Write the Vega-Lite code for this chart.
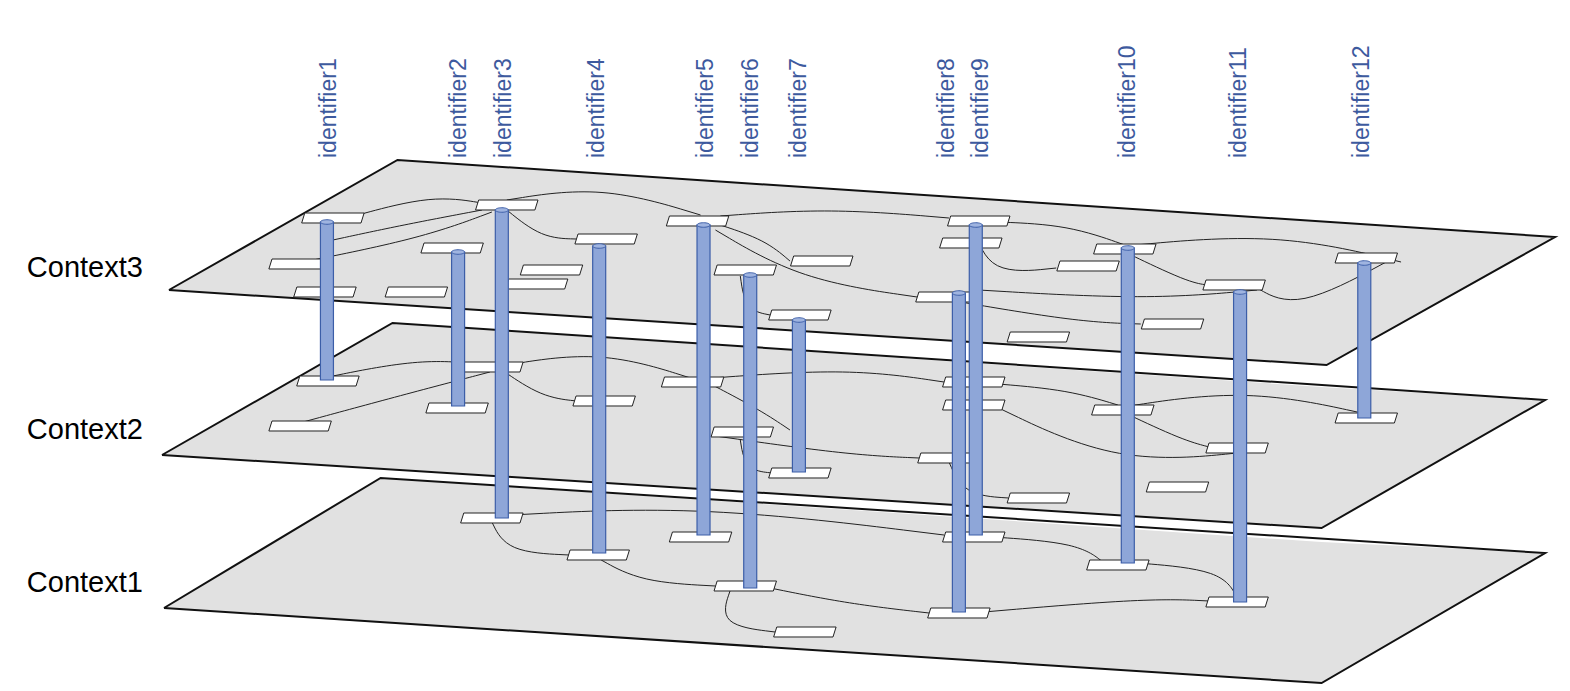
{
  "$schema": "https://vega.github.io/schema/vega-lite/v6.json",
  "autosize": {"type": "fit", "contains": "padding"},
  "width": 1570,
  "height": 691,
  "padding": 0,
  "background": "white",
  "config": {"view": {"stroke": null}},
  "datasets": {
    "planes": [
      {"plane": 1, "x": 160, "y": 608, "y2": 608},
      {"plane": 1, "x": 378, "y": 478, "y2": 623},
      {"plane": 1, "x": 1325, "y": 542, "y2": 683},
      {"plane": 1, "x": 1550, "y": 553, "y2": 553},
      {"plane": 2, "x": 158, "y": 455, "y2": 455},
      {"plane": 2, "x": 390, "y": 323, "y2": 469},
      {"plane": 2, "x": 1325, "y": 387, "y2": 528},
      {"plane": 2, "x": 1550, "y": 400, "y2": 400},
      {"plane": 3, "x": 165, "y": 290, "y2": 290},
      {"plane": 3, "x": 395, "y": 160, "y2": 305},
      {"plane": 3, "x": 1330, "y": 222, "y2": 365},
      {"plane": 3, "x": 1560, "y": 237, "y2": 237}
    ],
    "outlines": [
      {"plane": 1, "ord": 1, "x": 160, "y": 608},
      {"plane": 1, "ord": 2, "x": 378, "y": 478},
      {"plane": 1, "ord": 3, "x": 1550, "y": 553},
      {"plane": 1, "ord": 4, "x": 1325, "y": 683},
      {"plane": 1, "ord": 5, "x": 160, "y": 608},
      {"plane": 2, "ord": 1, "x": 158, "y": 455},
      {"plane": 2, "ord": 2, "x": 390, "y": 323},
      {"plane": 2, "ord": 3, "x": 1550, "y": 400},
      {"plane": 2, "ord": 4, "x": 1325, "y": 528},
      {"plane": 2, "ord": 5, "x": 158, "y": 455},
      {"plane": 3, "ord": 1, "x": 165, "y": 290},
      {"plane": 3, "ord": 2, "x": 395, "y": 160},
      {"plane": 3, "ord": 3, "x": 1560, "y": 237},
      {"plane": 3, "ord": 4, "x": 1330, "y": 365},
      {"plane": 3, "ord": 5, "x": 165, "y": 290}
    ],
    "boxes": [
      {"plane": 3, "x": 330, "y": 218}, {"plane": 3, "x": 297, "y": 264}, {"plane": 3, "x": 322, "y": 292},
      {"plane": 3, "x": 505, "y": 205}, {"plane": 3, "x": 450, "y": 248}, {"plane": 3, "x": 414, "y": 292},
      {"plane": 3, "x": 550, "y": 270}, {"plane": 3, "x": 535, "y": 284}, {"plane": 3, "x": 605, "y": 239},
      {"plane": 3, "x": 697, "y": 221}, {"plane": 3, "x": 745, "y": 270}, {"plane": 3, "x": 822, "y": 261},
      {"plane": 3, "x": 800, "y": 315}, {"plane": 3, "x": 980, "y": 221}, {"plane": 3, "x": 972, "y": 243},
      {"plane": 3, "x": 948, "y": 297}, {"plane": 3, "x": 1090, "y": 266}, {"plane": 3, "x": 1127, "y": 249},
      {"plane": 3, "x": 1040, "y": 337}, {"plane": 3, "x": 1175, "y": 324}, {"plane": 3, "x": 1237, "y": 285},
      {"plane": 3, "x": 1370, "y": 258},
      {"plane": 2, "x": 325, "y": 381}, {"plane": 2, "x": 297, "y": 426}, {"plane": 2, "x": 455, "y": 408},
      {"plane": 2, "x": 490, "y": 367}, {"plane": 2, "x": 603, "y": 401}, {"plane": 2, "x": 692, "y": 382},
      {"plane": 2, "x": 742, "y": 432}, {"plane": 2, "x": 800, "y": 473}, {"plane": 2, "x": 975, "y": 382},
      {"plane": 2, "x": 975, "y": 405}, {"plane": 2, "x": 950, "y": 458}, {"plane": 2, "x": 1040, "y": 498},
      {"plane": 2, "x": 1125, "y": 410}, {"plane": 2, "x": 1180, "y": 487}, {"plane": 2, "x": 1240, "y": 448},
      {"plane": 2, "x": 1370, "y": 418},
      {"plane": 1, "x": 490, "y": 518}, {"plane": 1, "x": 597, "y": 555}, {"plane": 1, "x": 700, "y": 537},
      {"plane": 1, "x": 745, "y": 586}, {"plane": 1, "x": 805, "y": 632}, {"plane": 1, "x": 975, "y": 537},
      {"plane": 1, "x": 960, "y": 613}, {"plane": 1, "x": 1120, "y": 565}, {"plane": 1, "x": 1240, "y": 602}
    ],
    "curves": [
      {"plane": 3, "id": "a1", "ord": 1, "x": 355, "y": 215}, {"plane": 3, "id": "a1", "ord": 2, "x": 430, "y": 195}, {"plane": 3, "id": "a1", "ord": 3, "x": 480, "y": 203},
      {"plane": 3, "id": "a2", "ord": 1, "x": 505, "y": 200}, {"plane": 3, "id": "a2", "ord": 2, "x": 600, "y": 185}, {"plane": 3, "id": "a2", "ord": 3, "x": 700, "y": 215},
      {"plane": 3, "id": "a3", "ord": 1, "x": 720, "y": 216}, {"plane": 3, "id": "a3", "ord": 2, "x": 830, "y": 208}, {"plane": 3, "id": "a3", "ord": 3, "x": 950, "y": 218},
      {"plane": 3, "id": "a4", "ord": 1, "x": 1000, "y": 222}, {"plane": 3, "id": "a4", "ord": 2, "x": 1070, "y": 225}, {"plane": 3, "id": "a4", "ord": 3, "x": 1127, "y": 245},
      {"plane": 3, "id": "a5", "ord": 1, "x": 1127, "y": 246}, {"plane": 3, "id": "a5", "ord": 2, "x": 1280, "y": 232}, {"plane": 3, "id": "a5", "ord": 3, "x": 1405, "y": 262},
      {"plane": 3, "id": "a6", "ord": 1, "x": 505, "y": 210}, {"plane": 3, "id": "a6", "ord": 2, "x": 540, "y": 238}, {"plane": 3, "id": "a6", "ord": 3, "x": 575, "y": 239},
      {"plane": 3, "id": "a7", "ord": 1, "x": 720, "y": 225}, {"plane": 3, "id": "a7", "ord": 2, "x": 765, "y": 240}, {"plane": 3, "id": "a7", "ord": 3, "x": 790, "y": 261},
      {"plane": 3, "id": "a8", "ord": 1, "x": 715, "y": 230}, {"plane": 3, "id": "a8", "ord": 2, "x": 800, "y": 280}, {"plane": 3, "id": "a8", "ord": 3, "x": 918, "y": 297},
      {"plane": 3, "id": "a9", "ord": 1, "x": 330, "y": 240}, {"plane": 3, "id": "a9", "ord": 2, "x": 400, "y": 225}, {"plane": 3, "id": "a9", "ord": 3, "x": 480, "y": 210},
      {"plane": 3, "id": "a10", "ord": 1, "x": 1127, "y": 252}, {"plane": 3, "id": "a10", "ord": 2, "x": 1190, "y": 282}, {"plane": 3, "id": "a10", "ord": 3, "x": 1210, "y": 285},
      {"plane": 3, "id": "a11", "ord": 1, "x": 975, "y": 226}, {"plane": 3, "id": "a11", "ord": 2, "x": 990, "y": 275}, {"plane": 3, "id": "a11", "ord": 3, "x": 1058, "y": 268},
      {"plane": 3, "id": "a12", "ord": 1, "x": 950, "y": 300}, {"plane": 3, "id": "a12", "ord": 2, "x": 1080, "y": 322}, {"plane": 3, "id": "a12", "ord": 3, "x": 1143, "y": 324},
      {"plane": 3, "id": "a13", "ord": 1, "x": 740, "y": 276}, {"plane": 3, "id": "a13", "ord": 2, "x": 745, "y": 310}, {"plane": 3, "id": "a13", "ord": 3, "x": 770, "y": 315},
      {"plane": 3, "id": "a14", "ord": 1, "x": 300, "y": 262}, {"plane": 3, "id": "a14", "ord": 2, "x": 420, "y": 238}, {"plane": 3, "id": "a14", "ord": 3, "x": 490, "y": 212},
      {"plane": 3, "id": "a15", "ord": 1, "x": 980, "y": 290}, {"plane": 3, "id": "a15", "ord": 2, "x": 1150, "y": 300}, {"plane": 3, "id": "a15", "ord": 3, "x": 1260, "y": 290},
      {"plane": 3, "id": "a16", "ord": 1, "x": 1260, "y": 288}, {"plane": 3, "id": "a16", "ord": 2, "x": 1300, "y": 310}, {"plane": 3, "id": "a16", "ord": 3, "x": 1390, "y": 262},
      {"plane": 2, "id": "b1", "ord": 1, "x": 505, "y": 365}, {"plane": 2, "id": "b1", "ord": 2, "x": 600, "y": 350}, {"plane": 2, "id": "b1", "ord": 3, "x": 690, "y": 378},
      {"plane": 2, "id": "b2", "ord": 1, "x": 712, "y": 378}, {"plane": 2, "id": "b2", "ord": 2, "x": 850, "y": 368}, {"plane": 2, "id": "b2", "ord": 3, "x": 945, "y": 382},
      {"plane": 2, "id": "b3", "ord": 1, "x": 1000, "y": 384}, {"plane": 2, "id": "b3", "ord": 2, "x": 1070, "y": 390}, {"plane": 2, "id": "b3", "ord": 3, "x": 1120, "y": 405},
      {"plane": 2, "id": "b4", "ord": 1, "x": 1125, "y": 407}, {"plane": 2, "id": "b4", "ord": 2, "x": 1250, "y": 388}, {"plane": 2, "id": "b4", "ord": 3, "x": 1370, "y": 414},
      {"plane": 2, "id": "b5", "ord": 1, "x": 300, "y": 422}, {"plane": 2, "id": "b5", "ord": 2, "x": 400, "y": 395}, {"plane": 2, "id": "b5", "ord": 3, "x": 488, "y": 372},
      {"plane": 2, "id": "b6", "ord": 1, "x": 325, "y": 377}, {"plane": 2, "id": "b6", "ord": 2, "x": 420, "y": 358}, {"plane": 2, "id": "b6", "ord": 3, "x": 485, "y": 365},
      {"plane": 2, "id": "b7", "ord": 1, "x": 500, "y": 370}, {"plane": 2, "id": "b7", "ord": 2, "x": 540, "y": 397}, {"plane": 2, "id": "b7", "ord": 3, "x": 575, "y": 401},
      {"plane": 2, "id": "b8", "ord": 1, "x": 712, "y": 385}, {"plane": 2, "id": "b8", "ord": 2, "x": 760, "y": 410}, {"plane": 2, "id": "b8", "ord": 3, "x": 790, "y": 430},
      {"plane": 2, "id": "b9", "ord": 1, "x": 715, "y": 436}, {"plane": 2, "id": "b9", "ord": 2, "x": 850, "y": 455}, {"plane": 2, "id": "b9", "ord": 3, "x": 920, "y": 458},
      {"plane": 2, "id": "b10", "ord": 1, "x": 1125, "y": 412}, {"plane": 2, "id": "b10", "ord": 2, "x": 1185, "y": 440}, {"plane": 2, "id": "b10", "ord": 3, "x": 1212, "y": 447},
      {"plane": 2, "id": "b11", "ord": 1, "x": 1000, "y": 408}, {"plane": 2, "id": "b11", "ord": 2, "x": 1120, "y": 465}, {"plane": 2, "id": "b11", "ord": 3, "x": 1250, "y": 452},
      {"plane": 2, "id": "b12", "ord": 1, "x": 950, "y": 462}, {"plane": 2, "id": "b12", "ord": 2, "x": 965, "y": 495}, {"plane": 2, "id": "b12", "ord": 3, "x": 1010, "y": 498},
      {"plane": 2, "id": "b13", "ord": 1, "x": 740, "y": 440}, {"plane": 2, "id": "b13", "ord": 2, "x": 745, "y": 470}, {"plane": 2, "id": "b13", "ord": 3, "x": 772, "y": 473},
      {"plane": 1, "id": "c1", "ord": 1, "x": 510, "y": 515}, {"plane": 1, "id": "c1", "ord": 2, "x": 700, "y": 505}, {"plane": 1, "id": "c1", "ord": 3, "x": 945, "y": 535},
      {"plane": 1, "id": "c2", "ord": 1, "x": 490, "y": 522}, {"plane": 1, "id": "c2", "ord": 2, "x": 505, "y": 552}, {"plane": 1, "id": "c2", "ord": 3, "x": 568, "y": 555},
      {"plane": 1, "id": "c3", "ord": 1, "x": 600, "y": 560}, {"plane": 1, "id": "c3", "ord": 2, "x": 640, "y": 582}, {"plane": 1, "id": "c3", "ord": 3, "x": 715, "y": 586},
      {"plane": 1, "id": "c4", "ord": 1, "x": 995, "y": 537}, {"plane": 1, "id": "c4", "ord": 2, "x": 1080, "y": 543}, {"plane": 1, "id": "c4", "ord": 3, "x": 1105, "y": 562},
      {"plane": 1, "id": "c5", "ord": 1, "x": 770, "y": 588}, {"plane": 1, "id": "c5", "ord": 2, "x": 850, "y": 604}, {"plane": 1, "id": "c5", "ord": 3, "x": 930, "y": 613},
      {"plane": 1, "id": "c6", "ord": 1, "x": 1140, "y": 563}, {"plane": 1, "id": "c6", "ord": 2, "x": 1225, "y": 570}, {"plane": 1, "id": "c6", "ord": 3, "x": 1240, "y": 598},
      {"plane": 1, "id": "c7", "ord": 1, "x": 730, "y": 590}, {"plane": 1, "id": "c7", "ord": 2, "x": 718, "y": 625}, {"plane": 1, "id": "c7", "ord": 3, "x": 775, "y": 632},
      {"plane": 1, "id": "c8", "ord": 1, "x": 985, "y": 612}, {"plane": 1, "id": "c8", "ord": 2, "x": 1150, "y": 598}, {"plane": 1, "id": "c8", "ord": 3, "x": 1212, "y": 601}
    ],
    "cylinders": [
      {"name": "identifier1", "x": 324, "top": 222, "bottom": 380},
      {"name": "identifier2", "x": 456, "top": 252, "bottom": 406},
      {"name": "identifier3", "x": 500, "top": 210, "bottom": 518},
      {"name": "identifier4", "x": 598, "top": 246, "bottom": 553},
      {"name": "identifier5", "x": 703, "top": 225, "bottom": 535},
      {"name": "identifier6", "x": 750, "top": 275, "bottom": 588},
      {"name": "identifier7", "x": 799, "top": 320, "bottom": 472},
      {"name": "identifier8", "x": 960, "top": 293, "bottom": 612},
      {"name": "identifier9", "x": 977, "top": 225, "bottom": 535},
      {"name": "identifier10", "x": 1130, "top": 248, "bottom": 563},
      {"name": "identifier11", "x": 1243, "top": 292, "bottom": 602},
      {"name": "identifier12", "x": 1368, "top": 263, "bottom": 418}
    ],
    "labels": [
      {"name": "identifier1", "x": 326, "y": 158}, {"name": "identifier2", "x": 457, "y": 158}, {"name": "identifier3", "x": 502, "y": 158},
      {"name": "identifier4", "x": 596, "y": 158}, {"name": "identifier5", "x": 705, "y": 158}, {"name": "identifier6", "x": 751, "y": 158},
      {"name": "identifier7", "x": 799, "y": 158}, {"name": "identifier8", "x": 948, "y": 158}, {"name": "identifier9", "x": 982, "y": 158},
      {"name": "identifier10", "x": 1130, "y": 158}, {"name": "identifier11", "x": 1242, "y": 158}, {"name": "identifier12", "x": 1366, "y": 158}
    ],
    "contexts": [
      {"name": "Context3", "x": 22, "y": 268},
      {"name": "Context2", "x": 22, "y": 430},
      {"name": "Context1", "x": 22, "y": 583}
    ]
  },
  "encoding": {
    "x": {"field": "x", "type": "quantitative", "scale": {"domain": [0, 1570]}, "axis": null},
    "y": {"field": "y", "type": "quantitative", "scale": {"domain": [691, 0]}, "axis": null}
  },
  "layer": [
    {"data": {"name": "planes"}, "transform": [{"filter": "datum.plane == 1"}], "mark": {"type": "area", "color": "#e1e1e1"}, "encoding": {"y2": {"field": "y2"}}},
    {"data": {"name": "outlines"}, "transform": [{"filter": "datum.plane == 1"}], "mark": {"type": "line", "color": "#111", "strokeWidth": 2}, "encoding": {"order": {"field": "ord"}}},
    {"data": {"name": "curves"}, "transform": [{"filter": "datum.plane == 1"}], "mark": {"type": "line", "color": "#222", "strokeWidth": 1, "interpolate": "basis"}, "encoding": {"detail": {"field": "id"}, "order": {"field": "ord"}}},
    {"data": {"name": "boxes"}, "transform": [{"filter": "datum.plane == 1"}], "mark": {"type": "point", "filled": true, "fill": "white", "stroke": "#222", "strokeWidth": 1, "opacity": 1, "size": 3900, "shape": "M-0.9,-0.16L1,-0.16L0.9,0.16L-1,0.16Z"}},
    {"data": {"name": "planes"}, "transform": [{"filter": "datum.plane == 2"}], "mark": {"type": "area", "color": "#e1e1e1"}, "encoding": {"y2": {"field": "y2"}}},
    {"data": {"name": "outlines"}, "transform": [{"filter": "datum.plane == 2"}], "mark": {"type": "line", "color": "#111", "strokeWidth": 2}, "encoding": {"order": {"field": "ord"}}},
    {"data": {"name": "curves"}, "transform": [{"filter": "datum.plane == 2"}], "mark": {"type": "line", "color": "#222", "strokeWidth": 1, "interpolate": "basis"}, "encoding": {"detail": {"field": "id"}, "order": {"field": "ord"}}},
    {"data": {"name": "boxes"}, "transform": [{"filter": "datum.plane == 2"}], "mark": {"type": "point", "filled": true, "fill": "white", "stroke": "#222", "strokeWidth": 1, "opacity": 1, "size": 3900, "shape": "M-0.9,-0.16L1,-0.16L0.9,0.16L-1,0.16Z"}},
    {"data": {"name": "planes"}, "transform": [{"filter": "datum.plane == 3"}], "mark": {"type": "area", "color": "#e1e1e1"}, "encoding": {"y2": {"field": "y2"}}},
    {"data": {"name": "outlines"}, "transform": [{"filter": "datum.plane == 3"}], "mark": {"type": "line", "color": "#111", "strokeWidth": 2}, "encoding": {"order": {"field": "ord"}}},
    {"data": {"name": "curves"}, "transform": [{"filter": "datum.plane == 3"}], "mark": {"type": "line", "color": "#222", "strokeWidth": 1, "interpolate": "basis"}, "encoding": {"detail": {"field": "id"}, "order": {"field": "ord"}}},
    {"data": {"name": "boxes"}, "transform": [{"filter": "datum.plane == 3"}], "mark": {"type": "point", "filled": true, "fill": "white", "stroke": "#222", "strokeWidth": 1, "opacity": 1, "size": 3900, "shape": "M-0.9,-0.16L1,-0.16L0.9,0.16L-1,0.16Z"}},
    {"data": {"name": "cylinders"}, "mark": {"type": "bar", "size": 13, "fill": "#8ea6d8", "stroke": "#3c5ea8", "strokeWidth": 1.2}, "encoding": {"y": {"field": "top", "type": "quantitative"}, "y2": {"field": "bottom"}}},
    {"data": {"name": "cylinders"}, "mark": {"type": "point", "filled": true, "fill": "#9fb4e0", "stroke": "#3c5ea8", "strokeWidth": 1, "opacity": 1, "size": 169, "shape": "M-1,0A1,0.35 0 1 0 1,0A1,0.35 0 1 0 -1,0Z"}, "encoding": {"y": {"field": "top", "type": "quantitative"}}},
    {"data": {"name": "labels"}, "mark": {"type": "text", "angle": 270, "align": "left", "baseline": "middle", "font": "Liberation Sans", "fontSize": 23, "fill": "#3d5a9e"}, "encoding": {"text": {"field": "name", "type": "nominal"}}},
    {"data": {"name": "contexts"}, "mark": {"type": "text", "align": "left", "baseline": "middle", "font": "Liberation Sans", "fontSize": 29, "fill": "black"}, "encoding": {"text": {"field": "name", "type": "nominal"}}}
  ]
}
